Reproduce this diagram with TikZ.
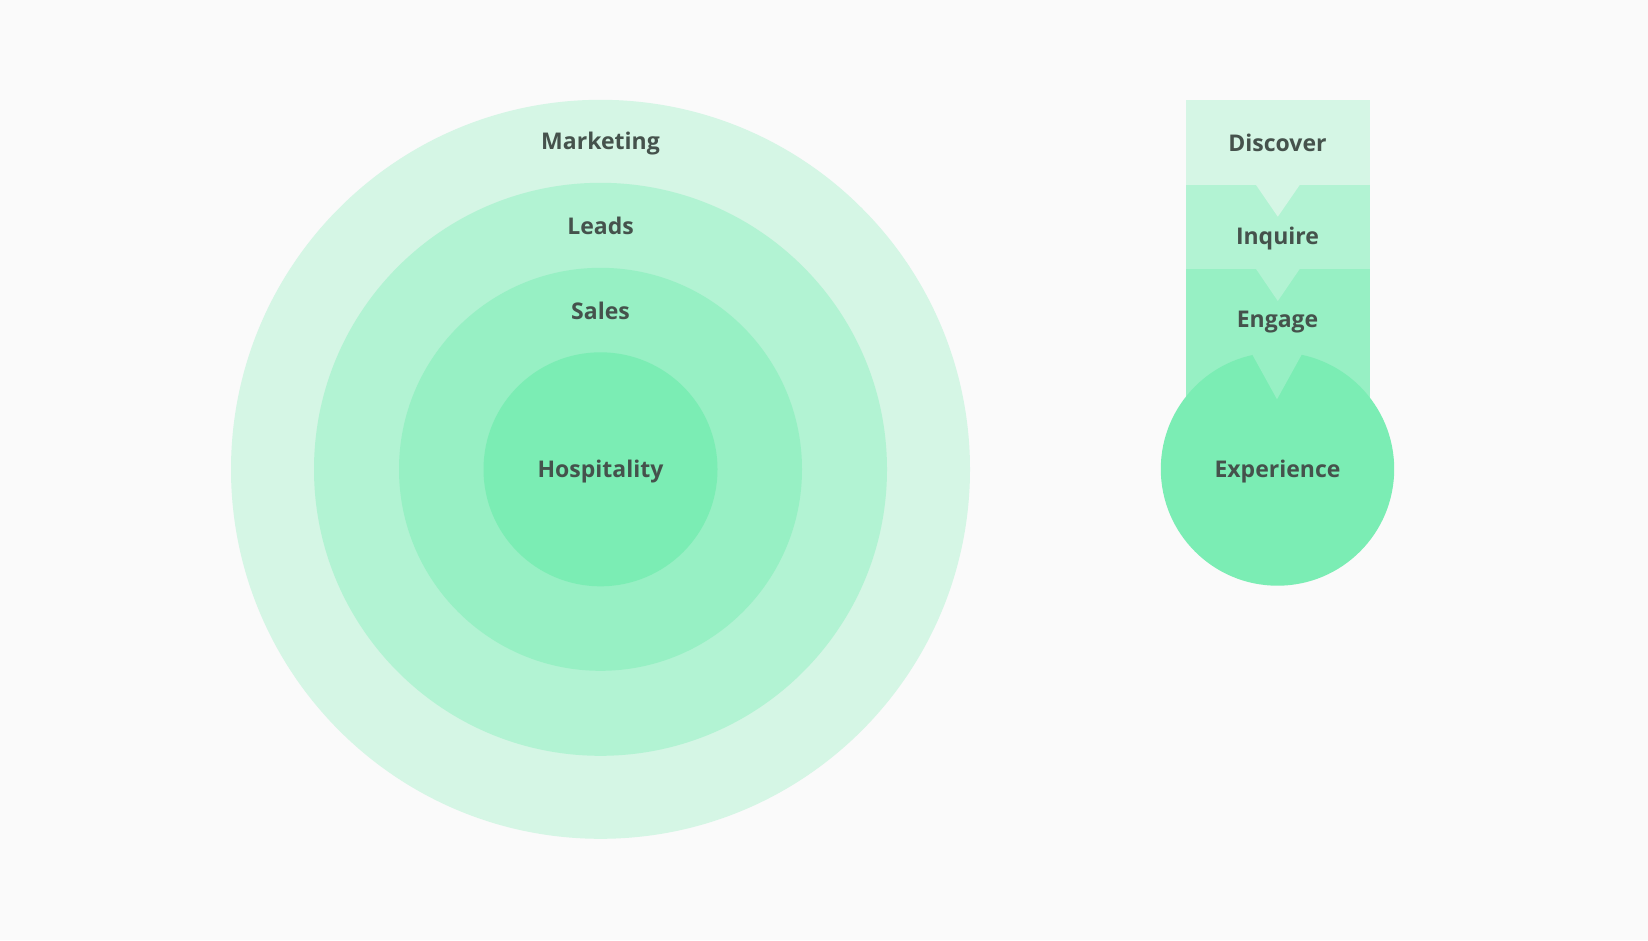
\documentclass[tikz,border=0pt]{standalone}
\usepackage{fontspec}
\setmainfont{Open Sans}
\definecolor{bg}{HTML}{FAFAFA}
\definecolor{ringA}{HTML}{D5F6E5}
\definecolor{ringB}{HTML}{B2F3D3}
\definecolor{ringC}{HTML}{97F0C4}
\definecolor{ringD}{HTML}{7BEDB4}
\definecolor{txt}{HTML}{45524C}
\tikzset{
  lbl/.style={anchor=base, text=txt, font=\fontsize{23}{27}\selectfont\bfseries, inner sep=0pt},
  disc/.style={circle, inner sep=0pt, minimum size=#1}
}
\begin{document}
\begin{tikzpicture}[x=1pt,y=-1pt]
\fill[bg] (0,0) rectangle (1648,940);
\useasboundingbox (0,0) rectangle (1648,940);
% concentric rings
\node[disc=739pt, fill=ringA] (marketing) at (600.5,469.3) {};
\node[disc=573pt, fill=ringB] (leads) at (600.5,469.3) {};
\node[disc=403pt, fill=ringC] (sales) at (600.5,469.3) {};
\node[disc=234pt, fill=ringD] (hosp) at (600.5,469.3) {};
\node[lbl] (tmarketing) at (600.5,149.3) {Marketing};
\node[lbl] (tleads) at (600.5,234) {Leads};
\node[lbl] (tsales) at (600.5,319) {Sales};
\node[lbl] (thosp) at (600.5,477.5) {Hospitality};
% funnel
\fill[ringA] (1185.6,99.8) rectangle (1369.5,185);
\fill[ringB] (1185.6,185) rectangle (1369.5,269);
\fill[ringC] (1185.6,269) rectangle (1369.5,469);
\fill[ringA] (1255.7,184.5) -- (1300,184.5) -- (1277.8,216.7) -- cycle;
\fill[ringB] (1255.7,268.5) -- (1300,268.5) -- (1277.8,301) -- cycle;
\node[disc=233.4pt, fill=ringD] (exp) at (1277.5,469) {};
\fill[ringC] (1247,345) -- (1307,345) -- (1277,399.3) -- cycle;
\node[lbl] (tdisc) at (1277.5,151.7) {Discover};
\node[lbl] (tinq) at (1277.5,244) {Inquire};
\node[lbl] (teng) at (1277.5,327.3) {Engage};
\node[lbl] (texp) at (1277.5,477.5) {Experience};
\end{tikzpicture}
\end{document}
